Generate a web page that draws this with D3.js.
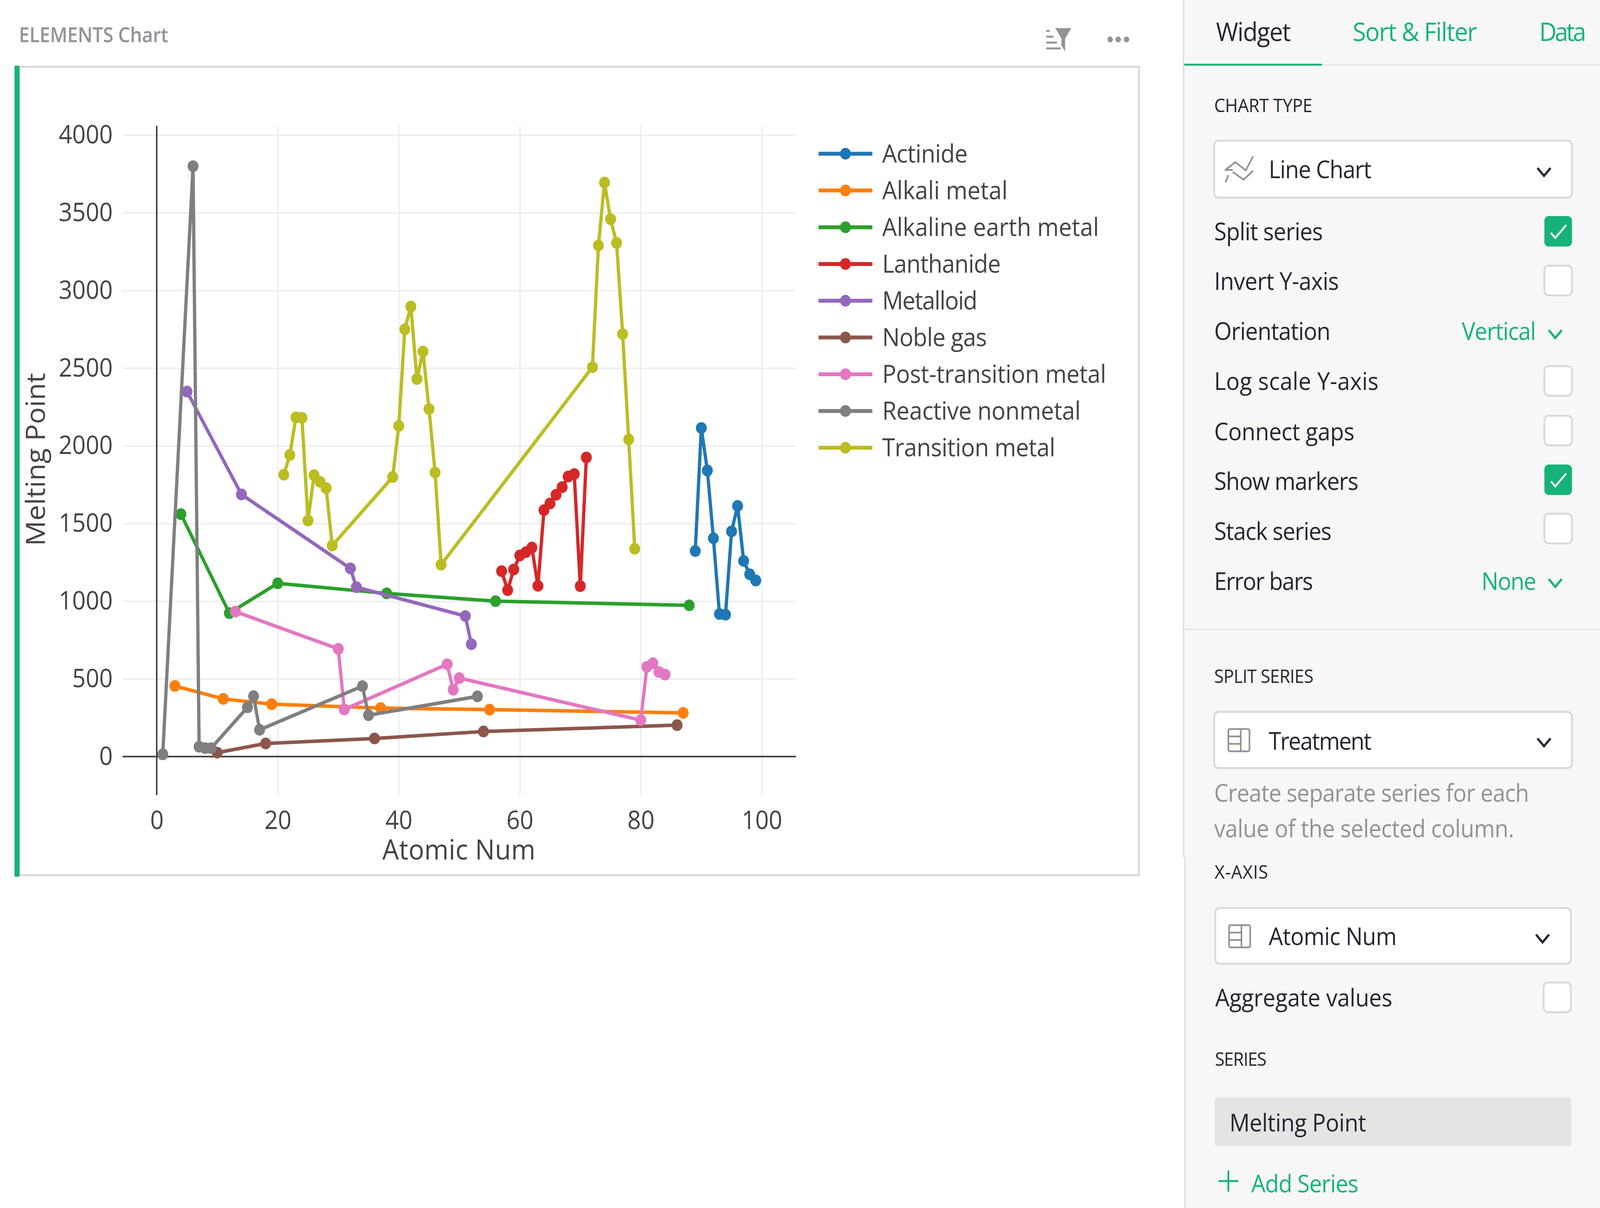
<!DOCTYPE html>
<html><head><meta charset="utf-8">
<script src="https://cdn.jsdelivr.net/npm/d3@7"></script>
<style>html,body{margin:0;padding:0;background:#fff;overflow:hidden}svg{display:block;width:100vw;height:100vh}</style>
</head><body><svg id="c" viewBox="0 0 4400 3092" preserveAspectRatio="none"></svg>
<script>
// ---- chart data ----
const categories = ["Actinide","Alkali metal","Alkaline earth metal","Lanthanide","Metalloid","Noble gas","Post-transition metal","Reactive nonmetal","Transition metal"];
const actinideNum = [89,90,91,92,93,94,95,96,97,98,99];
const actinideMelt = [1323,2115,1841,1405,917,913,1449,1613,1259,1173,1133];
const alkaliNum = [3,11,19,37,55,87];
const alkaliMelt = [454,371,337,312,302,281];
const alkalineNum = [4,12,20,38,56,88];
const alkalineMelt = [1560,923,1115,1050,1000,973];
const lanthanideNum = [57,58,59,60,61,62,63,64,65,66,67,68,69,70,71];
const lanthanideMelt = [1193,1071,1204,1294,1315,1345,1099,1586,1629,1685,1734,1802,1818,1097,1925];
const metalloidNum = [5,14,32,33,51,52];
const metalloidMelt = [2349,1687,1211,1090,904,723];
const nobleNum = [10,18,36,54,86];
const nobleMelt = [25,84,116,161,202];
const postNum = [13,30,31,48,49,50,80,81,82,83,84];
const postMelt = [933,693,303,594,430,505,234,577,600,544,527];
const reactiveNum = [1,6,7,8,9,15,16,17,34,35,53];
const reactiveMelt = [14,3800,63,54,54,317,388,172,453,266,387];
const transitionNum = [21,22,23,24,25,26,27,28,29,39,40,41,42,43,44,45,46,47,72,73,74,75,76,77,78,79];
const transitionMelt = [1814,1941,2183,2180,1519,1811,1768,1728,1358,1799,2128,2750,2896,2430,2607,2237,1828,1235,2506,3290,3695,3459,3306,2719,2041,1337];
const xTicks = [0,20,40,60,80,100];
const yTicks = [0,500,1000,1500,2000,2500,3000,3500,4000];
const palette = ["#1f77b4","#ff7f0e","#2ca02c","#d62728","#9467bd","#8c564b","#e377c2","#7f7f7f","#bcbd22"];
const nums = [actinideNum,alkaliNum,alkalineNum,lanthanideNum,metalloidNum,nobleNum,postNum,reactiveNum,transitionNum];
const melts = [actinideMelt,alkaliMelt,alkalineMelt,lanthanideMelt,metalloidMelt,nobleMelt,postMelt,reactiveMelt,transitionMelt];

// ---- sidebar content ----
const tabLabels = ["Widget","Sort & Filter","Data"];
const checkRows = ["Split series","Invert Y-axis","Log scale Y-axis","Connect gaps","Show markers","Stack series"];

const FONT = "'Open Sans',sans-serif";
const svg = d3.select("#c");
function txt(x,y,s,size,fill,w,opts={}){
  const t = svg.append("text").attr("x",x).attr("y",y).text(s)
    .style("font-family",FONT).style("font-size",size+"px").attr("fill",fill)
    .attr("text-anchor",opts.anchor||"start");
  if(opts.weight) t.style("font-weight",opts.weight);
  if(opts.rotate) t.attr("transform",`rotate(-90 ${x} ${y})`);
  if(w){ const n=s.length-1; const L=t.node().getComputedTextLength(); t.style("letter-spacing",((w-L)/n)+"px"); }
  return t;
}
const rect=(x,y,w,h,fill,stroke,sw,r)=>svg.append("rect").attr("x",x).attr("y",y).attr("width",w).attr("height",h).attr("fill",fill).attr("stroke",stroke||"none").attr("stroke-width",sw||0).attr("rx",r||0);
const pth=(d,stroke,sw,fill)=>svg.append("path").attr("d",d).attr("stroke",stroke||"none").attr("stroke-width",sw||0).attr("fill",fill||"none");

// ---- page frame ----
const GREEN="#16b378", INK="#262633", GREY="#929299";
rect(3256,0,1144,3092,"#f7f7f7");
rect(3252,0,5,2194,"#e4e4e4");
rect(3256,2194,5,898,"#e4e4e4");
rect(3257,164,1143,4,"#e6e6e6");
rect(3257,163,378,5,GREEN);
rect(3257,1609,1143,4,"#e6e6e6");
rect(42,171,3090,2069,"#fff","#d9d9d9",5);
rect(40,168,14,2076,GREEN,null,0,3);
txt(52,108,"ELEMENTS Chart",52,GREY,411,{weight:600});

// toolbar icons
[[79,2887],[94,2897],[109,2907],[124,2917]].forEach(([y,x2])=>rect(2877,y-2.5,x2-2877,5,GREY,null,0,1));
pth("M2902 72H2946L2929 99V132L2919 116V99Z",null,0,GREY);
[3053,3075,3098].forEach(x=>svg.append("circle").attr("cx",x).attr("cy",101).attr("r",7.5).attr("fill",GREY));

// ---- plot ----
const x = d3.scaleLinear().domain([-5.649,105.65]).range([337,2189]);
const y = d3.scaleLinear().domain([-248,4060]).range([2035,322]);
const gridX = svg.append("g").attr("transform","translate(0,2035)").call(d3.axisBottom(x).tickValues(xTicks.slice(1)).tickSize(-1713).tickFormat(""));
const gridY = svg.append("g").attr("transform","translate(337,0)").call(d3.axisLeft(y).tickValues(yTicks.slice(1)).tickSize(-1852).tickFormat(""));
[gridX,gridY].forEach(g=>{g.select(".domain").remove();g.selectAll("line").attr("stroke","#eeeeee").attr("stroke-width",4);});
svg.append("line").attr("x1",x(0)).attr("x2",x(0)).attr("y1",322).attr("y2",2035).attr("stroke","#3a3a3a").attr("stroke-width",4);
svg.append("line").attr("x1",337).attr("x2",2189).attr("y1",y(0)).attr("y2",y(0)).attr("stroke","#3a3a3a").attr("stroke-width",4);

const axX = svg.append("g").attr("transform","translate(0,2035)").call(d3.axisBottom(x).tickValues(xTicks).tickSize(0).tickPadding(41));
const axY = svg.append("g").attr("transform","translate(337,0)").call(d3.axisLeft(y).tickValues(yTicks).tickSize(0).tickPadding(27).tickFormat(d3.format("d")));
[axX,axY].forEach(g=>{g.select(".domain").remove();g.selectAll("text").style("font-family",FONT).style("font-size","65px").attr("fill","#444");});

const line = d3.line().x(d=>x(d[0])).y(d=>y(d[1]));
const traces = svg.append("g").selectAll("g").data(categories).join("g");
traces.append("path").attr("d",(d,i)=>line(d3.zip(nums[i],melts[i]))).attr("fill","none")
  .attr("stroke",(d,i)=>palette[i]).attr("stroke-width",9).attr("stroke-linejoin","round");
traces.each(function(d,i){
  d3.select(this).selectAll("circle").data(d3.zip(nums[i],melts[i])).join("circle")
    .attr("cx",p=>x(p[0])).attr("cy",p=>y(p[1])).attr("r",15).attr("fill",palette[i]);
});
txt(1262,2200,"Atomic Num",72,"#444",421,{anchor:"middle"});
txt(124,1176,"Melting Point",72,"#444",443,{anchor:"middle",rotate:true});

// legend
const legendY = d3.scaleLinear().domain([0,8]).range([393.5,1146]);
const leg = svg.append("g").selectAll("g").data(categories).join("g").attr("transform",(d,i)=>`translate(2251,${legendY(i)})`);
leg.append("line").attr("x2",148).attr("stroke",(d,i)=>palette[i]).attr("stroke-width",10);
leg.append("circle").attr("cx",74).attr("r",15).attr("fill",(d,i)=>palette[i]);
leg.append("text").attr("x",175).attr("dy","0.35em").text(d=>d).style("font-family",FONT).style("font-size","64px").attr("fill","#444");
const legendW = [235,345,596,326,262,288,616,546,476];
leg.select("text").each(function(d,i){const L=this.getComputedTextLength();d3.select(this).style("letter-spacing",((legendW[i]-L)/(d.length-1))+"px");});

// ---- sidebar ----
const SZ=62;
txt(3344,105,tabLabels[0],66,INK,206);
txt(3720,105,tabLabels[1],66,GREEN,342);
txt(4233,105,tabLabels[2],66,GREEN,129);
txt(3339,287,"CHART TYPE",48,INK,270);
txt(3339,1748,"SPLIT SERIES",48,INK,273);
txt(3340,2249,"X-AXIS",48,INK,147);
txt(3341,2728,"SERIES",48,INK,142);

function chevron(cx,cy,col){pth(`M${cx-18} ${cy-10}L${cx} ${cy+10}L${cx+18} ${cy-10}`,col,6);}
function selectBox(x0,y0,w,h,label,lw,by,cx,cy){rect(x0,y0,w,h,"#fff","#d9d9d9",5,12);txt(3489,by,label,SZ,INK,lw);chevron(cx,cy,INK);}
selectBox(3339,360,984,146,"Line Chart",283,456,4246,440);
selectBox(3339,1822,984,144,"Treatment",283,1919,4246,1900);
selectBox(3342,2324,978,143,"Atomic Num",352,2419,4242,2402);
// chart icon
pth("M3368 435H3390M3370 435L3397 415L3426 436L3446 400M3370 467L3378 448M3390 440L3420 460L3446 437",GREY,4.5);
function tableIcon(dx,dy){rect(3378+dx,1866+dy,58,57,"none",GREY,4.5,4);pth(`M${3412+dx} ${1866+dy}V${1923+dy}M${3378+dx} ${1885+dy}H${3412+dx}M${3378+dx} ${1904+dy}H${3412+dx}`,GREY,4.5);}
tableIcon(0,0);tableIcon(2,502);

function check(x0,y0,w,h,on){
  if(on){rect(x0,y0,w,h,GREEN,null,0,12);pth(`M${x0+18} ${y0+43}L${x0+30} ${y0+56}L${x0+60} ${y0+23}`,"#fff",5);}
  else rect(x0,y0,w,h,"#fff","#d9d9d9",5,12);
}
const rowB=[615,742,998,1127,1254,1382], rowW=[299,343,452,386,397,323], boxY=[553,680,937,1064,1189,1315], boxOn=[true,false,false,false,true,false];
checkRows.forEach((s,i)=>{txt(3339,rowB[i],s,SZ,INK,rowW[i]);check(4247,boxY[i],76,boxOn[i]?78:76,boxOn[i]);});
txt(3339,870,"Orientation",SZ,INK,320);
txt(4020,870,"Vertical",SZ,GREEN,204);chevron(4277,855,GREEN);
txt(3339,1510,"Error bars",SZ,INK,272);
txt(4074,1510,"None",SZ,GREEN,151);chevron(4277,1492,GREEN);
txt(3339,2052,"Create separate series for each",SZ,GREY,866);
txt(3339,2143,"value of the selected column.",SZ,GREY,825);
txt(3342,2576,"Aggregate values",SZ,INK,487);check(4245,2515,75,76,false);
rect(3340,2809,981,125,"#e4e4e4",null,0,6);
txt(3381,2896,"Melting Point",SZ,INK,376);
pth("M3351 3023H3405M3378 2996V3050",GREEN,5);
txt(3441,3052,"Add Series",SZ,GREEN,295);
</script></body></html>
